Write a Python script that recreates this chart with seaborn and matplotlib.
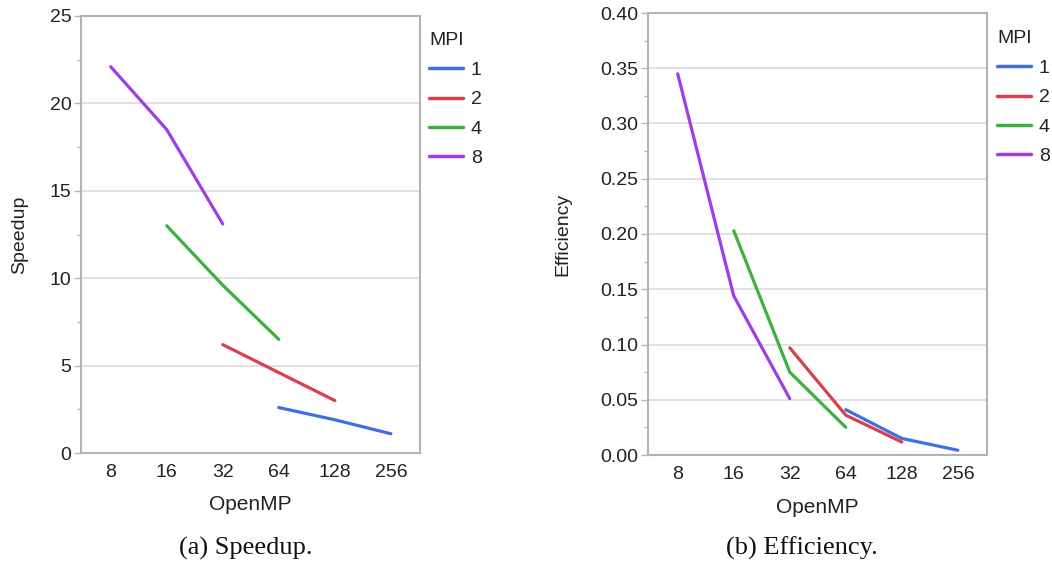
import matplotlib
matplotlib.use("Agg")
import matplotlib.pyplot as plt
import seaborn as sns
import pandas as pd
from matplotlib.lines import Line2D
from matplotlib.ticker import MultipleLocator

# ---- data ----
openmp_labels = ["8", "16", "32", "64", "128", "256"]
mpi_levels = ["1", "2", "4", "8"]

# (MPI, OpenMP) pairs and values
mpi_1_openmp = ["64", "128", "256"]
mpi_1_speedup = [2.6, 1.9, 1.1]
mpi_1_eff = [0.041, 0.015, 0.0043]

mpi_2_openmp = ["32", "64", "128"]
mpi_2_speedup = [6.2, 4.6, 3.0]
mpi_2_eff = [0.097, 0.036, 0.0117]

mpi_4_openmp = ["16", "32", "64"]
mpi_4_speedup = [13.0, 9.6, 6.5]
mpi_4_eff = [0.203, 0.075, 0.025]

mpi_8_openmp = ["8", "16", "32"]
mpi_8_speedup = [22.1, 18.5, 13.1]
mpi_8_eff = [0.345, 0.144, 0.051]

colors = ["#3f6fe0", "#d6404f", "#3db13d", "#a03de6"]

rows = []
for m, xs, sp, ef in [("1", mpi_1_openmp, mpi_1_speedup, mpi_1_eff),
                      ("2", mpi_2_openmp, mpi_2_speedup, mpi_2_eff),
                      ("4", mpi_4_openmp, mpi_4_speedup, mpi_4_eff),
                      ("8", mpi_8_openmp, mpi_8_speedup, mpi_8_eff)]:
    for x, s, e in zip(xs, sp, ef):
        rows.append({"MPI": m, "OpenMP": x, "pos": openmp_labels.index(x),
                     "Speedup": s, "Efficiency": e})
df = pd.DataFrame(rows)

sns.set_theme(style="white")
plt.rcParams["font.family"] = ["Liberation Sans", "DejaVu Sans"]
text_color = "#222222"
spine_color = "#b4b4b4"
grid_color = "#dcdcdc"
FS = 14

W, H = 1052, 571
fig = plt.figure(figsize=(W / 100, H / 100), dpi=100)

def px_axes(l, t, r, b):
    return fig.add_axes([l / W, 1 - b / H, (r - l) / W, (b - t) / H])

ax1 = px_axes(81, 16, 420, 453)
ax2 = px_axes(648, 13, 987, 455)

palette = dict(zip(mpi_levels, colors))

def style(ax, ycol, ymax, major, minor, fmt, ylab_x, leg_x, leg_y):
    sns.lineplot(data=df, x="pos", y=ycol, hue="MPI", hue_order=mpi_levels,
                 palette=palette, ax=ax, linewidth=2.3, legend=False, sort=True)
    ax.set_xlim(-0.53, 5.52)
    ax.set_ylim(0, ymax)
    ax.set_xticks(range(len(openmp_labels)))
    ax.set_xticklabels(openmp_labels)
    ax.yaxis.set_major_locator(MultipleLocator(major))
    ax.yaxis.set_minor_locator(MultipleLocator(minor))
    ax.yaxis.set_major_formatter(plt.FormatStrFormatter(fmt))
    ax.grid(axis="y", which="major", color=grid_color, linewidth=1.2)
    ax.set_axisbelow(True)
    for s in ax.spines.values():
        s.set_visible(True)
        s.set_color(spine_color)
        s.set_linewidth(1.5)
    ax.tick_params(axis="y", which="major", length=5, width=1, color=spine_color,
                   labelsize=FS, labelcolor=text_color, pad=2, left=True)
    ax.tick_params(axis="y", which="minor", length=3, width=1, color=spine_color, left=True)
    ax.tick_params(axis="x", length=0, labelsize=FS, labelcolor=text_color, pad=8)
    ax.set_xlabel("OpenMP", fontsize=15, color=text_color)
    ax.set_ylabel(ycol, fontsize=FS, color=text_color)
    ax.xaxis.set_label_coords(0.5, -0.097)
    ax.yaxis.set_label_coords(ylab_x, 0.5)
    handles = [Line2D([], [], color=c, linewidth=2.5) for c in colors]
    leg = ax.legend(handles, mpi_levels, title="MPI", loc="upper left",
                    bbox_to_anchor=(leg_x / W, 1 - leg_y / H),
                    bbox_transform=fig.transFigure, frameon=False,
                    fontsize=FS, title_fontsize=FS, alignment="left",
                    handlelength=1.75, handletextpad=0.4, labelspacing=0.6,
                    borderpad=0, borderaxespad=0)
    leg._legend_box.sep = 9
    for t in leg.get_texts():
        t.set_color(text_color)
    leg.get_title().set_color(text_color)

style(ax1, "Speedup", 25, 5, 2.5, "%d", (28 - 81) / 339, 429, 32)
style(ax2, "Efficiency", 0.40, 0.05, 0.025, "%.2f", (571 - 648) / 339, 997, 30)

fig.text(246 / W, 1 - 548 / H, "(a) Speedup.", ha="center", va="center",
         fontsize=19, family=["Liberation Serif", "DejaVu Serif"], color="#111111")
fig.text(802 / W, 1 - 548 / H, "(b) Efficiency.", ha="center", va="center",
         fontsize=19, family=["Liberation Serif", "DejaVu Serif"], color="#111111")

fig.savefig("out.png", dpi=100, facecolor="white")
